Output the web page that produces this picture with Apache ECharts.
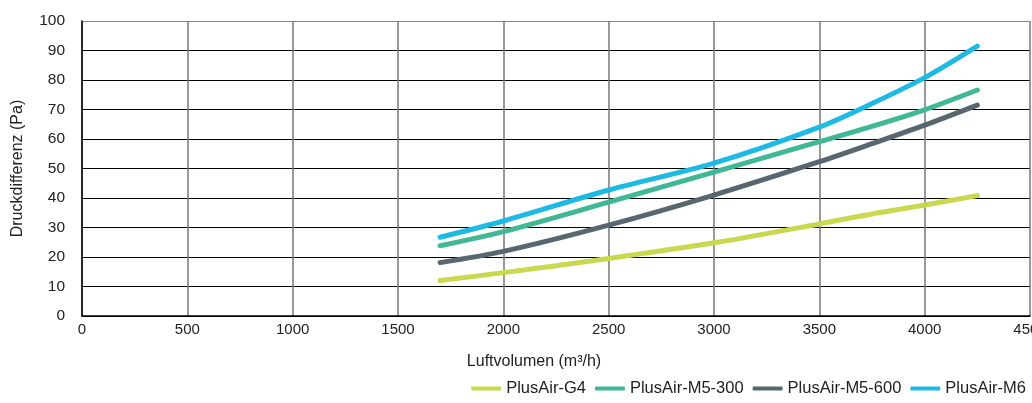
<!DOCTYPE html>
<html>
<head>
<meta charset="utf-8">
<script src="https://cdn.jsdelivr.net/npm/echarts@6/dist/echarts.min.js"></script>
<style>
  html, body { margin: 0; padding: 0; background: #fff; }
  #chart { width: 1032px; height: 403px; }
</style>
</head>
<body>
<div id="chart"></div>
<script>
// Luftvolumen (m³/h) – Messpunkte
const airflow = [1700, 2000, 2500, 3000, 3500, 3750, 4000, 4250];

// Druckdifferenz (Pa) je Filter
const g4 = [12, 14.7, 19.5, 24.8, 31.2, 34.6, 37.6, 40.8];
const m5_300 = [23.8, 28.6, 38.6, 48.8, 59.1, 64.3, 69.9, 76.6];
const m5_600 = [18.1, 21.9, 30.8, 41, 52.3, 58.4, 64.7, 71.5];
const m6 = [26.7, 32.2, 42.7, 51.8, 64, 72, 80.8, 91.5];

const seriesNames = ['PlusAir-G4', 'PlusAir-M5-300', 'PlusAir-M5-600', 'PlusAir-M6'];
const seriesColors = ['#c9d94f', '#40b896', '#58666f', '#1fbae3'];
const seriesData = [g4, m5_300, m5_600, m6];

const font = 'Liberation Sans, Arial, Helvetica, sans-serif';

// horizontale Linien schwarz, oberste grau
const hLineColors = ['#000', '#000', '#000', '#000', '#000', '#000', '#000', '#000', '#000', '#000', '#888'];

const chart = echarts.init(document.getElementById('chart'));

chart.setOption({
  animation: false,
  textStyle: { fontFamily: font },
  grid: { left: 82, right: 2, top: 21, bottom: 87, containLabel: false, outerBoundsMode: 'none' },
  legend: {
    right: 1,
    bottom: 1,
    icon: 'roundRect',
    itemWidth: 30,
    itemHeight: 4,
    itemGap: 9,
    textStyle: { fontFamily: font, fontSize: 16.5, color: '#222' },
    data: seriesNames
  },
  xAxis: {
    type: 'value',
    min: 0,
    max: 4500,
    interval: 500,
    name: 'Luftvolumen (m³/h)',
    nameLocation: 'middle',
    nameGap: 38,
    nameTextStyle: { fontFamily: font, fontSize: 16, color: '#222', padding: [0, 44, 0, 0] },
    axisLine: { lineStyle: { color: '#000', width: 1.5 } },
    axisTick: { show: false },
    axisLabel: {
      fontFamily: font, fontSize: 15, color: '#222', margin: 6,
      showMaxLabel: true, hideOverlap: false,
      formatter: v => String(v)
    },
    splitLine: { show: true, lineStyle: { color: '#777', width: 1.5 } }
  },
  yAxis: {
    type: 'value',
    min: 0,
    max: 100,
    interval: 10,
    name: 'Druckdifferenz (Pa)',
    nameLocation: 'middle',
    nameGap: 56,
    nameTextStyle: { fontFamily: font, fontSize: 16, color: '#222' },
    axisLine: { show: true, lineStyle: { color: '#000', width: 1.5 } },
    axisTick: { show: false },
    axisLabel: { fontFamily: font, fontSize: 15.5, color: '#222', margin: 17 },
    splitLine: { show: true, lineStyle: { color: hLineColors, width: 1 } }
  },
  series: seriesData.map((vals, i) => ({
    name: seriesNames[i],
    type: 'line',
    smooth: 0.3,
    showSymbol: false,
    color: seriesColors[i],
    lineStyle: { width: 5, cap: 'round', color: seriesColors[i] },
    data: vals.map((v, j) => [airflow[j], v])
  }))
});
</script>
</body>
</html>
